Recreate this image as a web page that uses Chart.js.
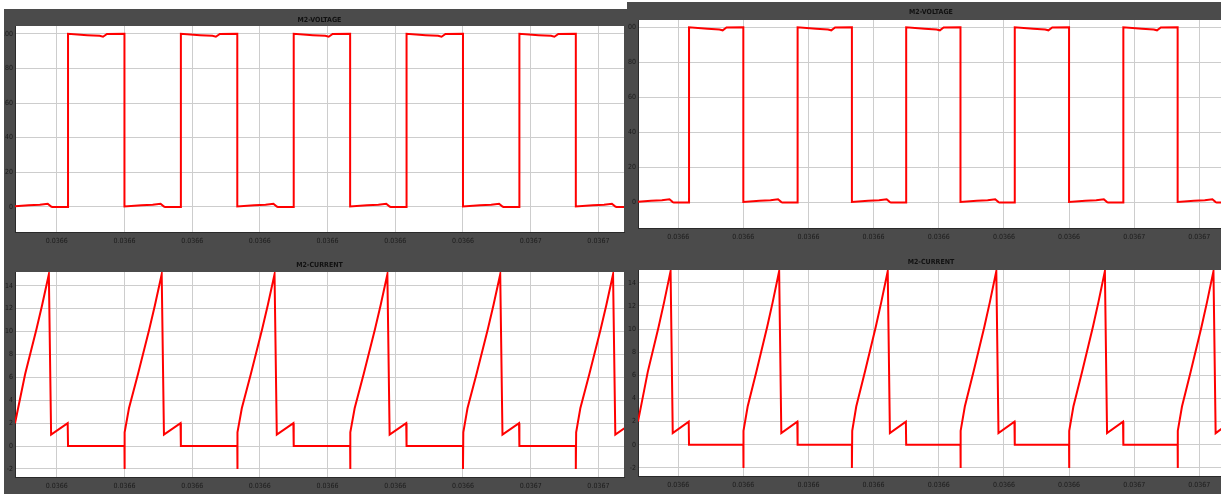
<!DOCTYPE html>
<html>
<head>
<meta charset="utf-8">
<script src="https://cdn.jsdelivr.net/npm/chart.js@4.4.1/dist/chart.umd.min.js"></script>
<style>
  html, body { margin: 0; padding: 0; background: #fff; width: 1221px; height: 494px; overflow: hidden; }
  .frame { position: absolute; background: #4b4b4b; }
  canvas { position: absolute; }
</style>
</head>
<body>
<div class="frame" style="left:4px;top:9px;width:624px;height:485px"></div>
<div class="frame" style="left:627px;top:2px;width:594px;height:492px"></div>
<canvas id="tl" width="623" height="241" style="left:4px;top:9px"></canvas>
<canvas id="bl" width="623" height="242" style="left:4px;top:252px"></canvas>
<canvas id="tr" width="596" height="244" style="left:628px;top:2px"></canvas>
<canvas id="br" width="596" height="246" style="left:628px;top:248px"></canvas>
<script>
// time in microseconds (axis labels are in seconds)
const xTicks = [10, 16, 22, 28, 34, 40, 46, 52, 58]
const xTickLabels = ['0.0366', '0.0366', '0.0366', '0.0366', '0.0366', '0.0366', '0.0366', '0.0367', '0.0367']

const voltTicks = [0, 20, 40, 60, 80, 100]
const currTicks = [-2, 0, 2, 4, 6, 8, 10, 12, 14]

// M2 voltage, one row per half period
const voltT = [
  6.3, 7.5, 8.5, 9.2, 9.5, 9.6, 11.0,
  11.0, 12.7, 13.8, 14.1, 14.45, 16.0,
  16.0, 17.5, 18.5, 19.2, 19.5, 19.6, 21.0,
  21.0, 22.7, 23.8, 24.1, 24.45, 26.0,
  26.0, 27.5, 28.5, 29.2, 29.5, 29.6, 31.0,
  31.0, 32.7, 33.8, 34.1, 34.45, 36.0,
  36.0, 37.5, 38.5, 39.2, 39.5, 39.6, 41.0,
  41.0, 42.7, 43.8, 44.1, 44.45, 46.0,
  46.0, 47.5, 48.5, 49.2, 49.5, 49.6, 51.0,
  51.0, 52.7, 53.8, 54.1, 54.45, 56.0,
  56.0, 57.5, 58.5, 59.2, 59.5, 59.6, 60.3
]
const voltV = [
  0.4, 1.0, 1.3, 1.8, 0.2, 0, 0,
  100, 99.2, 98.8, 98.3, 99.9, 100,
  0.3, 1.0, 1.3, 1.8, 0.2, 0, 0,
  100, 99.2, 98.8, 98.3, 99.9, 100,
  0.3, 1.0, 1.3, 1.8, 0.2, 0, 0,
  100, 99.2, 98.8, 98.3, 99.9, 100,
  0.3, 1.0, 1.3, 1.8, 0.2, 0, 0,
  100, 99.2, 98.8, 98.3, 99.9, 100,
  0.3, 1.0, 1.3, 1.8, 0.2, 0, 0,
  100, 99.2, 98.8, 98.3, 99.9, 100,
  0.3, 1.0, 1.3, 1.8, 0.2, 0, 0
]

// M2 current
const currT = [
  6.3, 7.2, 8.2, 8.7, 9.3, 9.5, 10.97, 11.0, 16.0,
  16.0, 16.03, 16.4, 17.2, 18.2, 18.7, 19.3, 19.5, 20.97, 21.0, 26.0,
  26.0, 26.03, 26.4, 27.2, 28.2, 28.7, 29.3, 29.5, 30.97, 31.0, 36.0,
  36.0, 36.03, 36.4, 37.2, 38.2, 38.7, 39.3, 39.5, 40.97, 41.0, 46.0,
  46.0, 46.03, 46.4, 47.2, 48.2, 48.7, 49.3, 49.5, 50.97, 51.0, 56.0,
  56.0, 56.03, 56.4, 57.2, 58.2, 58.7, 59.3, 59.5, 60.3
]
const currA = [
  2.0, 6.3, 10.2, 12.3, 15.0, 1.0, 2.0, 0, 0,
  -2.0, 1.2, 3.3, 6.3, 10.2, 12.3, 15.0, 1.0, 2.0, 0, 0,
  -2.0, 1.2, 3.3, 6.3, 10.2, 12.3, 15.0, 1.0, 2.0, 0, 0,
  -2.0, 1.2, 3.3, 6.3, 10.2, 12.3, 15.0, 1.0, 2.0, 0, 0,
  -2.0, 1.2, 3.3, 6.3, 10.2, 12.3, 15.0, 1.0, 2.0, 0, 0,
  -2.0, 1.2, 3.3, 6.3, 10.2, 12.3, 15.0, 1.0, 1.55
]

const FONT = "'Liberation Sans Narrow', 'DejaVu Sans Condensed', 'Liberation Sans', sans-serif"

const plotBg = {
  id: 'plotBg',
  beforeDraw(chart) {
    const a = chart.chartArea
    chart.ctx.save()
    chart.ctx.fillStyle = '#ffffff'
    chart.ctx.fillRect(a.left, a.top, a.right - a.left, a.bottom - a.top)
    chart.ctx.restore()
  }
}

function makeChart(id, title, xs, ys, yMin, yMax, yTicks, g) {
  const ctx = document.getElementById(id).getContext('2d')
  return new Chart(ctx, {
    type: 'line',
    data: {
      datasets: [{
        data: xs.map((t, i) => ({ x: t, y: ys[i] })),
        borderColor: '#ff0000',
        borderWidth: 2,
        pointRadius: 0,
        tension: 0,
        fill: false
      }]
    },
    plugins: [plotBg],
    options: {
      responsive: false,
      animation: false,
      layout: { padding: { left: 0, right: g.padRight, top: 0, bottom: 0 } },
      plugins: {
        legend: { display: false },
        tooltip: { enabled: false },
        title: {
          display: true,
          text: title,
          fullSize: false,
          color: '#111',
          font: { family: FONT, size: 7, weight: 'bold', lineHeight: 1.2 },
          padding: { top: g.titleTop, bottom: g.titleBottom }
        }
      },
      scales: {
        x: {
          type: 'linear',
          min: 6.3,
          max: 60.27,
          afterBuildTicks: (scale) => { scale.ticks = xTicks.map(v => ({ value: v })) },
          afterFit: (scale) => { scale.height = g.xH },
          grid: { color: '#cdcdcd', lineWidth: 1, drawTicks: false },
          border: { display: true, color: '#2a2a2a', width: 1 },
          ticks: {
            color: '#1c1c1c',
            padding: 5,
            maxRotation: 0,
            autoSkip: false,
            font: { family: FONT, size: 7 },
            callback: (value, index) => xTickLabels[index]
          }
        },
        y: {
          min: yMin,
          max: yMax,
          afterBuildTicks: (scale) => { scale.ticks = yTicks.map(v => ({ value: v })) },
          afterFit: (scale) => { scale.width = g.yW },
          grid: { color: '#cdcdcd', lineWidth: 1, drawTicks: false },
          border: { display: true, color: '#2a2a2a', width: 1 },
          ticks: {
            color: '#1c1c1c',
            padding: 2,
            autoSkip: false,
            font: { family: FONT, size: 7 },
            callback: (value) => String(value)
          }
        }
      }
    }
  })
}

makeChart('tl', 'M2-VOLTAGE', voltT, voltV, -14.5, 104.5, voltTicks,
  { yW: 11, xH: 18, padRight: 3, titleTop: 6.8, titleBottom: 1.8 })
makeChart('bl', 'M2-CURRENT', currT, currA, -2.7, 15.2, currTicks,
  { yW: 11, xH: 17, padRight: 3, titleTop: 8.8, titleBottom: 2.8 })
makeChart('tr', 'M2-VOLTAGE', voltT, voltV, -14.6, 104.2, voltTicks,
  { yW: 10, xH: 18, padRight: 0, titleTop: 5.8, titleBottom: 3.8 })
makeChart('br', 'M2-CURRENT', currT, currA, -2.7, 15.1, currTicks,
  { yW: 10, xH: 18, padRight: 0, titleTop: 9.8, titleBottom: 3.8 })
</script>
</body>
</html>
